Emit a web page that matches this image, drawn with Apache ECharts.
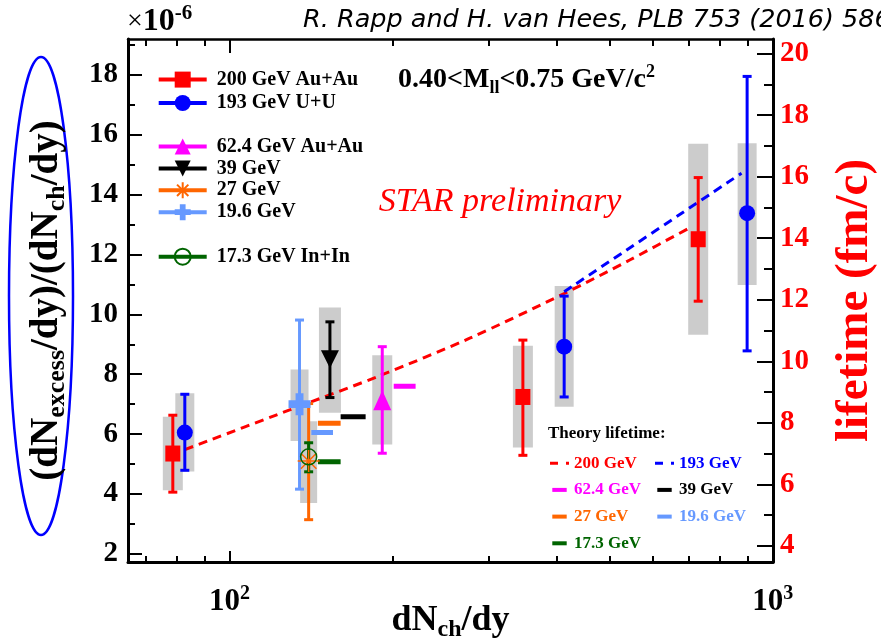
<!DOCTYPE html>
<html>
<head>
<meta charset="utf-8">
<script src="https://cdn.jsdelivr.net/npm/echarts@6/dist/echarts.min.js"></script>
<style>
  html, body { margin: 0; padding: 0; background: #ffffff; }
  #chart { width: 881px; height: 642px; }
</style>
</head>
<body>
<div id="chart"></div>
<script>
// Measured points: [dNch/dy, yield ratio (x1e-6), stat low, stat high, sys low, sys high]
const auau200 = [
  [78.6, 5.35, 4.06, 6.63, 4.12, 6.58],
  [346.7, 7.24, 5.29, 9.14, 5.55, 8.95],
  [729, 12.51, 10.44, 14.57, 9.32, 15.70]
];
const uu193 = [
  [82.7, 6.05, 4.79, 7.33, 4.75, 7.36],
  [413, 8.92, 7.24, 10.61, 6.91, 10.95],
  [897, 13.38, 8.78, 17.95, 10.98, 15.72]
];
const auau62 = [[191, 7.13, 5.36, 8.92, 5.65, 8.63]];
const auau39 = [[153, 8.50, 7.22, 9.75, 6.71, 10.23]];
const auau27 = [[139.8, 5.10, 3.14, 7.02, 3.70, 6.43]];
const auau19 = [[134.5, 7.00, 4.16, 9.81, 5.77, 8.16]];
const inin17 = [[139.8, 5.24, 4.74, 5.71]];

// Fireball lifetime (fm/c) against dNch/dy
const life200 = [[82.7, 7.13], [129, 8.42], [188.9, 9.53], [276.7, 10.75], [414, 12.21], [545.3, 13.29], [708.6, 14.37]];
const life193 = [[413, 12.26], [876, 16.11]];
const life62 = [[200.5, 9.19], [220, 9.19]];
const life39 = [[160.1, 8.20], [178, 8.20]];
const life27 = [[145.4, 7.99], [160.1, 7.99]];
const life19 = [[141.4, 7.69], [155, 7.69]];
const life17 = [[145.4, 6.74], [160.1, 6.74]];

// Tick values
const xMajor = [100, 1000];
const xMinor = [70, 80, 90, 200, 300, 400, 500, 600, 700, 800, 900];
const yMajor = [2, 4, 6, 8, 10, 12, 14, 16, 18];
const yMinor = [3, 5, 7, 9, 11, 13, 15, 17, 19];
const tauMajor = [4, 6, 8, 10, 12, 14, 16, 18, 20];
const tauMinor = [5, 7, 9, 11, 13, 15, 17, 19];

const SERIF = '"Liberation Serif", "Times New Roman", serif';

const STAR = 'path://M0,5L10,5M5,0L5,10M1.46,1.46L8.54,8.54M1.46,8.54L8.54,1.46';
const CROSS = 'path://M3.2,0h3.6v3.2h3.2v3.6h-3.2v3.2h-3.6v-3.2h-3.2v-3.6h3.2z';

const measured = [
  { name: '200 GeV Au+Au', data: auau200, color: '#ff0000', symbol: 'rect', size: [15, 16], box: 20 },
  { name: '193 GeV U+U', data: uu193, color: '#0000ff', symbol: 'circle', size: 16, box: 19 },
  { name: '62.4 GeV Au+Au', data: auau62, color: '#ff00ff', symbol: 'triangle', size: [18, 20], box: 20 },
  { name: '39 GeV', data: auau39, color: '#000000', symbol: 'triangle', rotate: 180, size: [18, 18], box: 22 },
  { name: '27 GeV', data: auau27, color: '#ff6600', symbol: STAR, size: 22, box: 17, hollow: true },
  { name: '19.6 GeV', data: auau19, color: '#6699ff', symbol: CROSS, size: 22, box: 18 },
  { name: '17.3 GeV In+In', data: inin17, color: '#006400', symbol: 'circle', size: 16, hollow: true }
];

const lifetimes = [
  { name: 'lifetime 200 GeV', data: life200, color: '#ff0000', dashed: true },
  { name: 'lifetime 193 GeV', data: life193, color: '#0000ff', dashed: true },
  { name: 'lifetime 62.4 GeV', data: life62, color: '#ff00ff' },
  { name: 'lifetime 39 GeV', data: life39, color: '#000000' },
  { name: 'lifetime 27 GeV', data: life27, color: '#ff6600' },
  { name: 'lifetime 19.6 GeV', data: life19, color: '#6699ff' },
  { name: 'lifetime 17.3 GeV', data: life17, color: '#006400' }
];

function logAxis(pos, ticks, len, lineWidth, withLabels) {
  return {
    type: 'log', logBase: 10, min: 65, max: 1001, position: pos,
    axisLine: { show: lineWidth > 0, onZero: false, lineStyle: { color: '#000', width: lineWidth } },
    axisTick: { show: true, inside: true, length: len, customValues: ticks, lineStyle: { color: '#000', width: 2 } },
    axisLabel: withLabels ? {
      customValues: xMajor,
      margin: 22,
      formatter: v => '{b|10}{s|' + Math.round(Math.log10(v)) + '}',
      rich: {
        b: { fontFamily: SERIF, fontWeight: 'bold', fontSize: 31, color: '#000' },
        s: { fontFamily: SERIF, fontWeight: 'bold', fontSize: 20, color: '#000', padding: [0, 0, 16, 0] }
      }
    } : { show: false },
    splitLine: { show: false },
    minorTick: { show: false }
  };
}

function valAxis(pos, min, max, ticks, len, lineWidth, labelCfg) {
  return {
    type: 'value', min: min, max: max, position: pos,
    axisLine: { show: lineWidth > 0, onZero: false, lineStyle: { color: '#000', width: lineWidth } },
    axisTick: { show: true, inside: true, length: len, customValues: ticks, lineStyle: { color: '#000', width: 2 } },
    axisLabel: labelCfg || { show: false },
    splitLine: { show: false },
    minorTick: { show: false }
  };
}

const xAxes = [
  logAxis('bottom', xMajor, 11, 3, true),
  logAxis('bottom', xMinor, 6, 0, false),
  logAxis('top', xMajor, 14, 2.5, false),
  logAxis('top', xMinor, 7, 0, false)
];
xAxes[0].name = '{m|dN}{s|ch}{m|/dy}';
xAxes[0].nameLocation = 'middle';
xAxes[0].nameGap = 38;
xAxes[0].nameMoveOverlap = false;
xAxes[0].nameTextStyle = {
  rich: {
    m: { fontFamily: SERIF, fontWeight: 'bold', fontSize: 36, color: '#000' },
    s: { fontFamily: SERIF, fontWeight: 'bold', fontSize: 24, color: '#000', padding: [18, 0, 0, 0] }
  }
};

const yAxes = [
  valAxis('left', 1.726, 19.2, yMajor, 14, 3, {
    customValues: yMajor, margin: 10,
    fontFamily: SERIF, fontWeight: 'bold', fontSize: 29, color: '#000'
  }),
  valAxis('left', 1.726, 19.2, yMinor, 7, 0, null),
  valAxis('right', 3.48, 20.47, tauMajor, 16, 3, {
    customValues: tauMajor, margin: 7,
    fontFamily: SERIF, fontWeight: 'bold', fontSize: 29, color: '#ff0000'
  }),
  valAxis('right', 3.48, 20.47, tauMinor, 9, 0, null)
];
yAxes[0].name = '{p|(dN}{s|excess}{p|/dy)/(dN}{s|ch}{p|/dy)}';
yAxes[0].nameLocation = 'middle';
yAxes[0].nameRotate = 90;
yAxes[0].nameGap = 58;
yAxes[0].nameMoveOverlap = false;
yAxes[0].nameTextStyle = {
  rich: {
    p: { fontFamily: SERIF, fontWeight: 'bold', fontSize: 39, color: '#000' },
    s: { fontFamily: SERIF, fontWeight: 'bold', fontSize: 26, color: '#000', padding: [20, 0, 0, 0] }
  }
};
yAxes[2].name = 'lifetime (fm/c)';
yAxes[2].nameLocation = 'middle';
yAxes[2].nameRotate = 90;
yAxes[2].nameGap = 58;
yAxes[2].nameMoveOverlap = false;
yAxes[2].nameTextStyle = { fontFamily: SERIF, fontWeight: 'bold', fontSize: 47, color: '#ff0000' };

const series = [];

// systematic boxes
measured.forEach(m => {
  if (m.data[0].length < 6) return;
  series.push({
    type: 'custom', xAxisIndex: 0, yAxisIndex: 0, z: 1, silent: true,
    data: m.data,
    encode: { x: 0, y: 1 },
    renderItem: (params, api) => {
      const x = api.value(0);
      const top = api.coord([x, api.value(5)]);
      const bot = api.coord([x, api.value(4)]);
      return {
        type: 'rect',
        shape: { x: top[0] - m.box / 2, y: top[1], width: m.box, height: bot[1] - top[1] },
        style: { fill: '#cccccc' }
      };
    }
  });
});

// lifetime curves and bars
lifetimes.forEach(t => {
  series.push({
    name: t.name, type: 'line', xAxisIndex: 0, yAxisIndex: 2, z: 3, silent: true,
    data: t.data, symbol: 'none', color: t.color, smooth: t.dashed ? 0.3 : false,
    lineStyle: t.dashed ? { color: t.color, width: 3, type: [9, 6] } : { color: t.color, width: 5, cap: 'butt' },
    animation: false
  });
});

// statistical error bars
measured.forEach(m => {
  series.push({
    type: 'custom', xAxisIndex: 0, yAxisIndex: 0, z: 4, silent: true,
    data: m.data,
    encode: { x: 0, y: 1 },
    renderItem: (params, api) => {
      const x = api.value(0);
      const hi = api.coord([x, api.value(3)]);
      const lo = api.coord([x, api.value(2)]);
      const st = { stroke: m.color, lineWidth: 3 };
      return {
        type: 'group',
        children: [
          { type: 'line', shape: { x1: hi[0], y1: hi[1], x2: lo[0], y2: lo[1] }, style: st },
          { type: 'line', shape: { x1: hi[0] - 4.5, y1: hi[1], x2: hi[0] + 4.5, y2: hi[1] }, style: st },
          { type: 'line', shape: { x1: lo[0] - 4.5, y1: lo[1], x2: lo[0] + 4.5, y2: lo[1] }, style: st }
        ]
      };
    }
  });
});

// markers
measured.forEach(m => {
  series.push({
    name: m.name, type: 'line', xAxisIndex: 0, yAxisIndex: 0, z: 5,
    data: m.data.map(r => [r[0], r[1]]),
    symbol: m.symbol, symbolSize: m.size, symbolRotate: m.rotate || 0,
    showSymbol: true, showAllSymbol: true, color: m.color,
    itemStyle: m.hollow
      ? { color: 'rgba(0,0,0,0)', borderColor: m.color, borderWidth: 1.5 }
      : { color: m.color, borderWidth: 0 },
    lineStyle: { color: m.color, width: 4, opacity: 0 },
    animation: false, silent: true
  });
});

const legendText = { fontFamily: SERIF, fontWeight: 'bold', fontSize: 20, color: '#000', lineHeight: 20, padding: [0, 0, 0, 5] };
function dataLegend(names, top, gap) {
  return {
    selectedMode: false, orient: 'vertical', left: 156.7, top: top, padding: 0,
    itemWidth: 48, itemHeight: 20, itemGap: gap,
    data: names, textStyle: legendText,
    lineStyle: { width: 4, opacity: 1 }
  };
}
const DASH_ICON = 'path://M0,0h8v3h-8zM16,0h3v3h-3z';
const BAR_ICON = 'path://M0,0h18v5h-18z';
function lifeLegend(items, left) {
  return {
    selectedMode: false, orient: 'vertical', left: left, top: 454.7, padding: 0,
    itemWidth: 19, itemHeight: 4, itemGap: 9.7,
    formatter: n => n.replace('lifetime ', ''),
    textStyle: { fontFamily: SERIF, fontWeight: 'bold', fontSize: 17, lineHeight: 17 },
    data: items.map(t => ({
      name: t.name, icon: t.dashed ? DASH_ICON : BAR_ICON,
      itemStyle: { color: t.color, borderWidth: 0 },
      textStyle: { color: t.color }
    }))
  };
}

const option = {
  backgroundColor: '#ffffff',
  animation: false,
  grid: { left: 128, top: 39, width: 645, height: 523, containLabel: false, outerBoundsMode: 'none' },
  xAxis: xAxes,
  yAxis: yAxes,
  legend: [
    dataLegend(['200 GeV Au+Au', '193 GeV U+U'], 69.6, 3.4),
    dataLegend(['62.4 GeV Au+Au', '39 GeV', '27 GeV', '19.6 GeV'], 136.5, 1.9),
    dataLegend(['17.3 GeV In+In'], 246.7, 2),
    lifeLegend([lifetimes[0], lifetimes[2], lifetimes[4], lifetimes[6]], 550),
    lifeLegend([lifetimes[1], lifetimes[3], lifetimes[5]], 655)
  ],
  graphic: [
    { type: 'ellipse', shape: { cx: 41, cy: 296, rx: 32, ry: 239 },
      style: { fill: 'none', stroke: '#0000ff', lineWidth: 2.5 }, silent: true },
    { type: 'text', x: 127, y: 22, silent: true,
      style: {
        text: '{x|×}{b|10}{s|-6}', verticalAlign: 'middle', align: 'left',
        rich: {
          x: { fontFamily: SERIF, fontSize: 28, fill: '#000' },
          b: { fontFamily: SERIF, fontWeight: 'bold', fontSize: 32, fill: '#000' },
          s: { fontFamily: SERIF, fontWeight: 'bold', fontSize: 21, fill: '#000', padding: [0, 0, 16, 0] }
        }
      } },
    { type: 'text', x: 303, y: 20, silent: true,
      style: { text: 'R. Rapp and H. van Hees, PLB 753 (2016) 586', font: 'italic 25.5px "DejaVu Sans", sans-serif',
        fill: '#000', verticalAlign: 'middle', align: 'left' } },
    { type: 'text', x: 398, y: 80, silent: true,
      style: {
        text: '{t|0.40<M}{sub|ll}{t|<0.75 GeV/c}{sup|2}', verticalAlign: 'middle', align: 'left',
        rich: {
          t: { fontFamily: SERIF, fontWeight: 'bold', fontSize: 28, fill: '#000' },
          sub: { fontFamily: SERIF, fontWeight: 'bold', fontSize: 18, fill: '#000', padding: [16, 0, 0, 0] },
          sup: { fontFamily: SERIF, fontWeight: 'bold', fontSize: 18, fill: '#000', padding: [0, 0, 16, 0] }
        }
      } },
    { type: 'text', x: 500, y: 202, silent: true,
      style: { text: 'STAR preliminary', font: 'italic 34px "Liberation Serif", serif', fill: '#ff0000',
        verticalAlign: 'middle', align: 'center' } },
    { type: 'text', x: 548, y: 434, silent: true,
      style: { text: 'Theory lifetime:', font: 'bold 17px "Liberation Serif", serif', fill: '#000',
        verticalAlign: 'middle', align: 'left' } }
  ],
  series: series
};

const chart = echarts.init(document.getElementById('chart'), null, { renderer: 'canvas' });
chart.setOption(option);
</script>
</body>
</html>
